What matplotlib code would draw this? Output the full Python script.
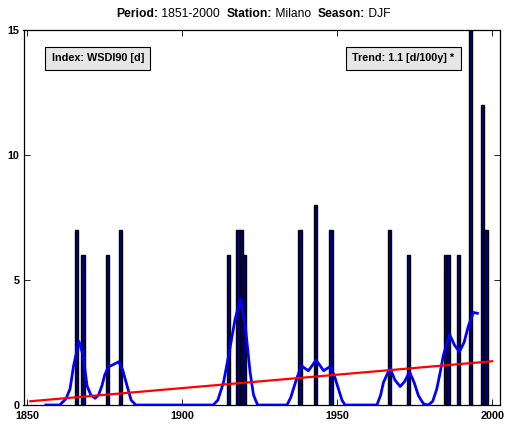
import numpy as np
import matplotlib
matplotlib.use("Agg")
import matplotlib.pyplot as plt

plt.rcParams['font.family'] = ['Liberation Sans', 'DejaVu Sans']

# Yearly index values (only non-zero years)
bar_years = [1866, 1868, 1876, 1880, 1915, 1918, 1919, 1920, 1938, 1943, 1948,
             1967, 1973, 1985, 1986, 1989, 1993, 1997, 1998]
bar_values = [7, 6, 6, 7, 6, 7, 7, 6, 7, 8, 7,
              7, 6, 6, 6, 6, 15, 12, 7]

# Smoothed curve
curve_years = [1856, 1860.5, 1862.5, 1863.8, 1865, 1866.7, 1868, 1869.3, 1870.5, 1871.9,
               1873, 1874.1, 1875, 1876.2, 1877.5, 1879.5, 1880.8, 1882.2, 1883.5, 1885,
               1910, 1911.5, 1913.3, 1915, 1917, 1918.7, 1920.3, 1921.9, 1923, 1924.3,
               1933.8, 1935, 1936.5, 1938.4, 1940.7, 1943.2, 1945.6, 1947.7, 1949, 1950.4,
               1951.5, 1952.5, 1962.8, 1964, 1964.9, 1967, 1968.6, 1970.3, 1971.8, 1973.3,
               1974.8, 1976.2, 1977.8, 1979.4, 1980.8, 1982.1, 1983.2, 1984.2, 1986.2, 1987.8,
               1989.4, 1990.9, 1992.3, 1993.9, 1995.2]
curve_values = [0, 0, 0.25, 0.64, 1.6, 2.54, 2.0, 0.77, 0.4, 0.27,
                0.4, 0.77, 1.2, 1.53, 1.6, 1.73, 1.4, 0.77, 0.2, 0,
                0, 0.2, 0.9, 2.0, 3.4, 4.23, 3.2, 1.3, 0.4, 0,
                0, 0.3, 0.9, 1.57, 1.37, 1.8, 1.37, 1.54, 1.2, 0.64,
                0.2, 0, 0, 0.4, 0.9, 1.48, 1.0, 0.74, 0.95, 1.33,
                0.9, 0.37, 0.05, 0, 0.15, 0.64, 1.3, 1.97, 2.83, 2.4,
                2.13, 2.5, 3.16, 3.7, 3.67]

# Linear trend end points
trend_years = [1851, 2000]
trend_values = [0.15, 1.75]

xticks = [1850, 1900, 1950, 2000]
yticks = [0, 5, 10, 15]

fig = plt.figure(figsize=(5.07, 4.26), dpi=100)
ax = fig.add_axes([23.5 / 507, 21 / 426, (500 - 23.5) / 507, 375 / 426])

ax.bar(bar_years, bar_values, width=1.0, color='#000080', edgecolor='black',
       linewidth=1.0, zorder=2)
ax.plot(curve_years, curve_values, color='blue', lw=2.0, zorder=3)
ax.plot(trend_years, trend_values, color='red', lw=1.6, zorder=4)

ax.set_xlim(1848.8, 2002.5)
ax.set_ylim(0, 15)
ax.set_xticks(xticks)
ax.set_yticks(yticks)
ax.tick_params(direction='in', top=True, right=True, length=4, width=0.6,
               labelsize=7.8)
ax.tick_params(axis='x', pad=4)
ax.tick_params(axis='y', pad=3)
for lab in ax.get_xticklabels() + ax.get_yticklabels():
    lab.set_fontweight('bold')
for sp in ax.spines.values():
    sp.set_linewidth(0.9)

box = dict(boxstyle='square,pad=0.6', facecolor='#e6e6e6', edgecolor='black', lw=0.8)
ax.text(0.059, 0.924, 'Index: WSDI90 [d]', transform=ax.transAxes,
        fontsize=7.8, fontweight='bold', va='center', ha='left', bbox=box)
ax.text(0.9045, 0.924, 'Trend: 1.1 [d/100y] *', transform=ax.transAxes,
        fontsize=7.8, fontweight='bold', va='center', ha='right', bbox=box)

# Title with mixed weights
pieces = [('Period:', 'bold'), (' 1851-2000  ', 'normal'), ('Station:', 'bold'),
          (' Milano  ', 'normal'), ('Season:', 'bold'), (' DJF', 'normal')]
renderer = fig.canvas.get_renderer()
texts = [fig.text(0, 1 - 14 / 426, s, fontweight=w, fontsize=8.7, va='center', ha='left')
         for s, w in pieces]
widths = [t.get_window_extent(renderer).width for t in texts]
x = (fig.bbox.width - sum(widths)) / 2
for t, w in zip(texts, widths):
    t.set_x(x / fig.bbox.width)
    x += w

fig.savefig('out.png', dpi=100)
